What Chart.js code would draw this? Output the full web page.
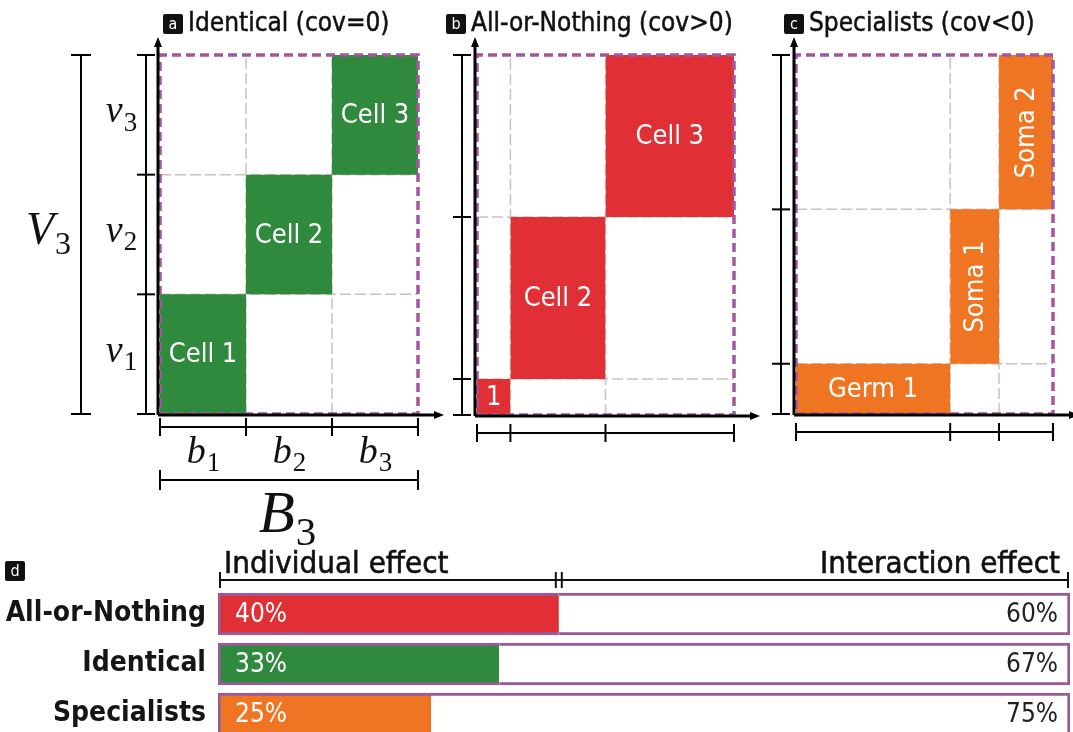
<!DOCTYPE html>
<html>
<head>
<meta charset="utf-8">
<script src="https://cdn.jsdelivr.net/npm/chart.js@4.4.1/dist/chart.umd.min.js"></script>
<style>
  html, body { margin: 0; padding: 0; background: #fff; overflow: hidden; }
  #wrap { position: relative; width: 1073px; height: 732px; overflow: hidden; }
  canvas { position: absolute; left: 0; top: 0; }
  .ttl { position: absolute; font-family: 'DejaVu Sans Condensed', 'Liberation Sans Narrow', 'DejaVu Sans', sans-serif;
         font-size: 26px; color: #111; white-space: nowrap; line-height: 30px; -webkit-text-stroke: 0.5px #111; }
  .tag { display: inline-block; background: #111; color: #fff; font-size: 16px; width: 20px; height: 20px;
         line-height: 20px; text-align: center; border-radius: 2px; margin-right: 5px; vertical-align: 2px;
         -webkit-text-stroke: 0; }
</style>
</head>
<body>
<div id="wrap">
  <canvas id="panelA" width="1073" height="732"></canvas>
  <canvas id="panelB" width="1073" height="732"></canvas>
  <canvas id="panelC" width="1073" height="732"></canvas>
  <canvas id="panelD" width="1073" height="780"></canvas>
  <div class="ttl" style="left:163px;top:7px"><span class="tag">a</span>Identical (cov=0)</div>
  <div class="ttl" style="left:446px;top:7px"><span class="tag">b</span>All-or-Nothing (cov&gt;0)</div>
  <div class="ttl" style="left:784px;top:7px"><span class="tag">c</span>Specialists (cov&lt;0)</div>
  <div class="ttl" style="left:5px;top:554px"><span class="tag">d</span></div>
</div>
<script>
// panel a - identical cells (equal blocks)
const identicalCols = [1, 1, 1];
const identicalRows = [1, 1, 1];
const identicalCells = ["Cell 1", "Cell 2", "Cell 3"];
const identicalColTicks = [["b", "1"], ["b", "2"], ["b", "3"]];
const identicalRowTicks = [["v", "1"], ["v", "2"], ["v", "3"]];
const identicalTotals = { x: ["B", "3"], y: ["V", "3"] };

// panel b - all-or-nothing
const allOrNothingCols = [0.13, 0.37, 0.50];
const allOrNothingRows = [0.10, 0.45, 0.45];
const allOrNothingCells = ["1", "Cell 2", "Cell 3"];

// panel c - specialists
const specialistCols = [0.60, 0.19, 0.21];
const specialistRows = [0.14, 0.43, 0.43];
const specialistCells = ["Germ 1", "Soma 1", "Soma 2"];

// panel d - effect split
const groups = ["All-or-Nothing", "Identical", "Specialists"];
const individualEffect = [40, 33, 25];
const interactionEffect = [60, 67, 75];
const effectNames = ["Individual effect", "Interaction effect"];

const FONT = "'DejaVu Sans Condensed', 'Liberation Sans Narrow', 'DejaVu Sans', sans-serif";
const MATH = "'Liberation Serif', 'DejaVu Serif', serif";
const PURPLE = "#a4579f";
const BAR_EDGE = "#9a5a96";
const GRID = "#ccc1bb";
const GREEN = "#2f8a3d", RED = "#e03035", ORANGE = "#f07522";

function edges(sizes) {
  const e = [0];
  sizes.forEach(s => e.push(e[e.length - 1] + s));
  return e;
}

function seg(ctx, x1, y1, x2, y2) {
  ctx.beginPath();
  ctx.moveTo(x1, y1);
  ctx.lineTo(x2, y2);
  ctx.stroke();
}

// italic symbol with upright subscript, centred on cx/cy
function mathLabel(ctx, sym, cx, cy, size) {
  ctx.font = "italic " + size + "px " + MATH;
  const w1 = ctx.measureText(sym[0]).width;
  const subSize = Math.round(size * 0.7);
  ctx.font = subSize + "px " + MATH;
  const w2 = ctx.measureText(sym[1]).width;
  const x0 = cx - (w1 + w2) / 2;
  ctx.textAlign = "left";
  ctx.textBaseline = "alphabetic";
  ctx.font = "italic " + size + "px " + MATH;
  ctx.fillText(sym[0], x0, cy + size * 0.2);
  ctx.font = subSize + "px " + MATH;
  ctx.fillText(sym[1], x0 + w1 + 1, cy + size * 0.2 + size * 0.22);
}

const panelDecor = {
  id: "panelDecor",
  afterDatasetsDraw(chart, args, o) {
    const { ctx, chartArea: ca, scales: { x, y } } = chart;
    const xe = edges(o.cols), ye = edges(o.rows);
    const xp = xe.map(v => x.getPixelForValue(v));
    const yp = ye.map(v => y.getPixelForValue(v));
    ctx.save();

    // axes with arrows
    const ax = xp[0] - 2, ay = yp[0] + 1;
    ctx.strokeStyle = "#000";
    ctx.fillStyle = "#000";
    ctx.lineWidth = 3;
    seg(ctx, ax, ay, ax, ca.top - 12);
    seg(ctx, ax, ay, ca.right + 20, ay);
    ctx.beginPath();
    ctx.moveTo(ax, ca.top - 18); ctx.lineTo(ax - 4, ca.top - 8); ctx.lineTo(ax + 4, ca.top - 8);
    ctx.closePath(); ctx.fill();
    ctx.beginPath();
    ctx.moveTo(ca.right + 26, ay); ctx.lineTo(ca.right + 16, ay - 4); ctx.lineTo(ca.right + 16, ay + 4);
    ctx.closePath(); ctx.fill();

    // brackets
    ctx.lineWidth = 2;
    const bx = xp[0] - o.bracketDx, by = yp[0] + o.bracketDy;
    seg(ctx, bx, yp[0], bx, yp[yp.length - 1]);
    yp.forEach(p => seg(ctx, bx - 9, p, bx + 9, p));
    seg(ctx, xp[0], by, xp[xp.length - 1], by);
    xp.forEach(p => seg(ctx, p, by - 9, p, by + 9));

    if (o.outer) {
      const ox = xp[0] - 79, oy = yp[0] + 66;
      seg(ctx, ox, yp[0], ox, yp[yp.length - 1]);
      seg(ctx, ox - 10, yp[0], ox + 10, yp[0]);
      seg(ctx, ox - 10, yp[yp.length - 1], ox + 10, yp[yp.length - 1]);
      seg(ctx, xp[0], oy, xp[xp.length - 1], oy);
      seg(ctx, xp[0], oy - 10, xp[0], oy + 10);
      seg(ctx, xp[xp.length - 1], oy - 10, xp[xp.length - 1], oy + 10);
      ctx.fillStyle = "#111";
      o.rowTicks.forEach((t, i) => mathLabel(ctx, t, xp[0] - 39, (yp[i] + yp[i + 1]) / 2, 38));
      o.colTicks.forEach((t, i) => mathLabel(ctx, t, (xp[i] + xp[i + 1]) / 2, by + 28, 38));
      mathLabel(ctx, o.totals.y, xp[0] - 112, (yp[0] + yp[yp.length - 1]) / 2, 46);
      mathLabel(ctx, o.totals.x, (xp[0] + xp[xp.length - 1]) / 2 - 2, oy + 40, 59);
    }

    // cell names
    ctx.fillStyle = "#fff";
    ctx.font = "27px " + FONT;
    ctx.textAlign = "center";
    ctx.textBaseline = "middle";
    o.names.forEach((n, i) => {
      const cx = (xp[i] + xp[i + 1]) / 2, cy = (yp[i] + yp[i + 1]) / 2;
      const w = Math.abs(xp[i + 1] - xp[i]);
      if (ctx.measureText(n).width > w - 8) {
        ctx.save();
        ctx.translate(cx, cy);
        ctx.rotate(-Math.PI / 2);
        ctx.fillText(n, 0, 1);
        ctx.restore();
      } else {
        ctx.fillText(n, cx, cy + 1);
      }
    });
    ctx.restore();
  }
};

function buildPanel(id, cols, rows, names, color, pad, decor) {
  const xe = edges(cols), ye = edges(rows);
  const W = xe[xe.length - 1], H = ye[ye.length - 1];
  const datasets = [];
  datasets.push({
    data: [{ x: 0, y: 0 }, { x: W, y: 0 }, { x: W, y: H }, { x: 0, y: H }, { x: 0, y: 0 }],
    borderColor: PURPLE, borderWidth: 3.5, borderDash: [9, 5], fill: false, order: 0
  });
  names.forEach((n, i) => datasets.push({
    label: n,
    data: [{ x: xe[i], y: ye[i + 1] }, { x: xe[i + 1], y: ye[i + 1] }],
    fill: { value: ye[i] }, backgroundColor: color, borderWidth: 0, order: 1
  }));
  xe.slice(1, -1).forEach(v => datasets.push({
    data: [{ x: v, y: 0 }, { x: v, y: H }],
    borderColor: GRID, borderWidth: 1.5, borderDash: [11, 4], fill: false, order: 2
  }));
  ye.slice(1, -1).forEach(v => datasets.push({
    data: [{ x: 0, y: v }, { x: W, y: v }],
    borderColor: GRID, borderWidth: 1.5, borderDash: [11, 4], fill: false, order: 2
  }));

  return new Chart(document.getElementById(id), {
    type: "line",
    data: { datasets },
    options: {
      responsive: false,
      animation: false,
      events: [],
      layout: { padding: pad },
      elements: { point: { radius: 0, hoverRadius: 0 }, line: { tension: 0 } },
      datasets: { line: { clip: false } },
      plugins: {
        legend: { display: false },
        tooltip: { enabled: false },
        panelDecor: Object.assign({ cols, rows, names }, decor)
      },
      scales: {
        x: { type: "linear", min: 0, max: W, display: false },
        y: { type: "linear", min: 0, max: H, display: false }
      }
    },
    plugins: [panelDecor]
  });
}

buildPanel("panelA", identicalCols, identicalRows, identicalCells, GREEN,
  { left: 160, right: 1073 - 418, top: 55, bottom: 732 - 414 },
  { bracketDx: 14, bracketDy: 13, outer: true, rowTicks: identicalRowTicks, colTicks: identicalColTicks, totals: identicalTotals });

buildPanel("panelB", allOrNothingCols, allOrNothingRows, allOrNothingCells, RED,
  { left: 477, right: 1073 - 734, top: 55, bottom: 732 - 415 },
  { bracketDx: 15, bracketDy: 18, outer: false });

buildPanel("panelC", specialistCols, specialistRows, specialistCells, ORANGE,
  { left: 796, right: 1073 - 1053, top: 55, bottom: 732 - 414 },
  { bracketDx: 15, bracketDy: 18, outer: false });

// panel d: labels inside bars and the header bracket
const effectDecor = {
  id: "effectDecor",
  afterDatasetsDraw(chart) {
    const { ctx, chartArea: ca, scales: { x } } = chart;
    ctx.save();
    ctx.font = "26px " + FONT;
    ctx.textBaseline = "middle";
    const m0 = chart.getDatasetMeta(0), m1 = chart.getDatasetMeta(1);
    m0.data.forEach((bar, i) => {
      ctx.fillStyle = "#fff";
      ctx.textAlign = "left";
      ctx.fillText(individualEffect[i] + "%", bar.base + 17, bar.y + 1);
    });
    m1.data.forEach((bar, i) => {
      ctx.fillStyle = "#222";
      ctx.textAlign = "right";
      ctx.fillText(interactionEffect[i] + "%", bar.x - 12, bar.y + 1);
    });

    // header bracket
    const y0 = ca.top - 9;
    const split = x.getPixelForValue(individualEffect[0]);
    ctx.strokeStyle = "#111";
    ctx.lineWidth = 2;
    seg(ctx, ca.left + 2, y0, ca.right - 2, y0);
    [ca.left + 2, split - 3, split + 3, ca.right - 2].forEach(p => seg(ctx, p, y0 - 8, p, y0 + 8));
    ctx.fillStyle = "#111";
    ctx.lineWidth = 0.6;
    ctx.font = "31px " + FONT;
    ctx.textBaseline = "alphabetic";
    ctx.textAlign = "left";
    ctx.fillText(effectNames[0], ca.left + 6, y0 - 7);
    ctx.strokeText(effectNames[0], ca.left + 6, y0 - 7);
    ctx.textAlign = "right";
    ctx.fillText(effectNames[1], ca.right - 10, y0 - 7);
    ctx.strokeText(effectNames[1], ca.right - 10, y0 - 7);
    ctx.restore();
  }
};

new Chart(document.getElementById("panelD"), {
  type: "bar",
  data: {
    labels: groups,
    datasets: [
      {
        label: effectNames[0],
        data: individualEffect,
        backgroundColor: [RED, GREEN, ORANGE],
        borderColor: BAR_EDGE,
        borderWidth: { top: 3, bottom: 3, left: 3, right: 0 },
        borderSkipped: false,
        barThickness: 42
      },
      {
        label: effectNames[1],
        data: interactionEffect,
        backgroundColor: "#fff",
        borderColor: BAR_EDGE,
        borderWidth: { top: 3, bottom: 3, left: 0, right: 3 },
        borderSkipped: false,
        barThickness: 42
      }
    ]
  },
  options: {
    indexAxis: "y",
    responsive: false,
    animation: false,
    events: [],
    layout: { padding: { left: 0, right: 1073 - 1070, top: 589, bottom: 780 - 739 } },
    plugins: { legend: { display: false }, tooltip: { enabled: false } },
    scales: {
      x: { stacked: true, min: 0, max: 100, display: false },
      y: {
        stacked: true,
        grid: { display: false, drawTicks: false },
        border: { display: false },
        ticks: { color: "#151515", font: { family: FONT, size: 28, weight: "bold" }, padding: 12 },
        afterFit(scale) { scale.width = 218; }
      }
    }
  },
  plugins: [effectDecor]
});
</script>
</body>
</html>
